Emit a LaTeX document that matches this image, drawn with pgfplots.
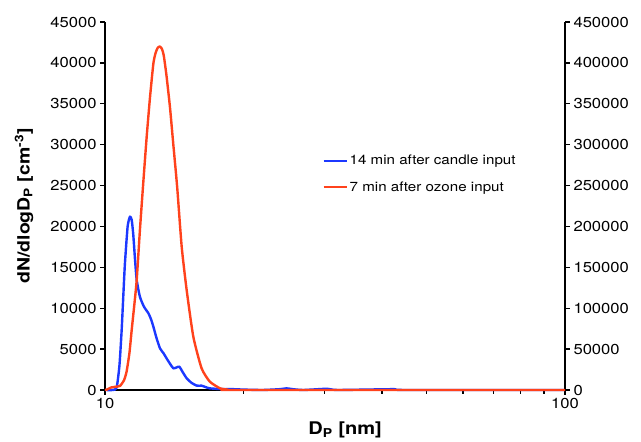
\documentclass[border=0pt]{standalone}
\usepackage{fontspec}
\setmainfont[FakeStretch=1.15]{TeX Gyre Heros}
\usepackage{pgfplots}
\pgfplotsset{compat=1.18}
\definecolor{cblue}{RGB}{28,56,255}
\definecolor{cred}{RGB}{255,66,28}
\pgfplotsset{myax/.style={
  width=460bp,height=368bp,scale only axis,
  xmin=10,xmax=100,ymin=0,
  tick align=outside, major tick length=5bp, minor tick length=4bp,
  axis line style={line width=2bp},
  tick style={black,line width=1.3bp},
  tick label style={font=\fontsize{14.5}{16}\selectfont},
  /pgf/number format/fixed,
  /pgf/number format/precision=0,
  /pgf/number format/assume math mode=true,
  /pgf/number format/1000 sep={},
  scaled y ticks=false, clip=false}}
\begin{document}
\begin{tikzpicture}
\begin{axis}[xmode=log, myax,
  axis y line*=left, axis x line*=bottom,
  xtick={10,100}, xticklabels={10,100},
  minor xtick={20,30,40,50,60,70,80,90},
  ymax=45000, ytick={0,5000,...,45000},
  xlabel={\bfseries D\textsubscript{P} [nm]},
  xlabel style={font=\fontsize{17.5}{19}\selectfont, at={(axis description cs:0.522,-0.109)}, anchor=center},
  ylabel={\bfseries dN/dlogD\textsubscript{P} [cm\textsuperscript{-3}]},
  ylabel style={font=\fontsize{17}{19}\selectfont, at={(axis description cs:-0.176,0.5)}, anchor=center},
]
\addplot[cblue, line width=2.4bp, line join=round, smooth, tension=0.35] coordinates {
(10,0) (10.4,0) (10.6,300) (10.75,3000) (10.87,7340) (10.97,12000) (11.05,15500)
(11.2,20000) (11.33,21200) (11.43,20800) (11.52,19000) (11.62,16000) (11.72,13450)
(11.91,11400) (12.15,10200) (12.43,9370) (12.6,8600) (12.74,7740) (12.95,6300)
(13.17,5090) (13.4,4500) (13.61,3870) (13.85,3200) (14.08,2650) (14.3,2750)
(14.51,2850) (14.75,2200) (15.05,1430) (15.4,900) (15.83,530) (16.22,530)
(16.5,380) (16.9,200) (18.05,100) (19,100) (20,50) (22,0) (24,100) (24.8,200)
(25.6,100) (27,0) (30.4,150) (32,0) (42.3,100) (45,0) (100,0)
};
\coordinate (bl) at (rel axis cs:0,0);
\coordinate (tr) at (rel axis cs:1,1);
\end{axis}
\begin{axis}[xmode=log, myax,
  axis y line*=right, axis x line=none,
  xtick=\empty, minor xtick={},
  ymax=450000, ytick={0,50000,...,450000},
  legend style={draw=none, fill=none, inner sep=0pt, at={(axis description cs:0.472,0.587)}, anchor=west,
    font=\fontsize{13.2}{15}\selectfont, row sep=11bp},
  legend cell align=left,
  legend image code/.code={\draw[#1] (0bp,0bp) -- (23bp,0bp);},
]
\addlegendimage{cblue, line width=2.4bp}
\addlegendentry{14 min after candle input}
\addplot[cred, line width=2.4bp, line join=round, smooth, tension=0.35] coordinates {
(10,0) (10.1,500) (10.3,3000) (10.55,4000) (10.78,5000) (11.0,12000) (11.14,22400)
(11.3,45000) (11.43,73400) (11.58,104000) (11.72,134500) (11.91,195600) (12.11,253000)
(12.32,309700) (12.53,358600) (12.74,399300) (12.88,412000) (13.02,418500) (13.17,420000)
(13.3,417000) (13.42,409000) (13.6,385000)
(13.84,346300) (14.07,301600) (14.35,248500) (14.68,175200) (15.05,122200)
(15.56,65200) (16.22,26500) (16.9,10200) (17.8,2000) (18.5,500) (19.5,0) (100,0)
};
\addlegendentry{7 min after ozone input}
\end{axis}
\pgfresetboundingbox
\path ([shift={(-105bp,-52bp)}]bl) rectangle ([shift={(76bp,22bp)}]tr);
\end{tikzpicture}
\end{document}
